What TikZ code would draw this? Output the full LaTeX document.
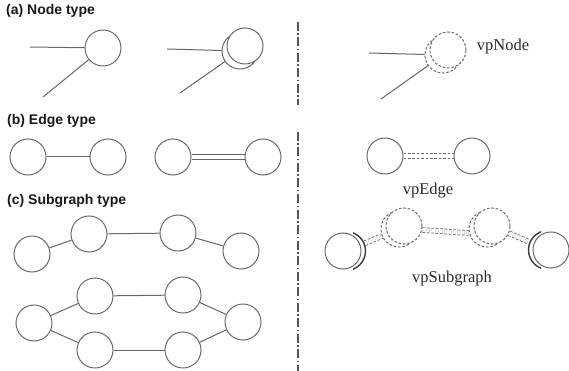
\documentclass[tikz,border=0pt]{standalone}
\usepackage{fontspec}
\setmainfont{Liberation Serif}
\newfontfamily\headfont{Liberation Sans}
\pgfdeclarelayer{bg}
\pgfsetlayers{bg,main}
\definecolor{ringgray}{HTML}{6A6A6A}
\definecolor{linkgray}{HTML}{666666}
\definecolor{sepgray}{HTML}{555555}
\definecolor{arcgray}{HTML}{3A3A3A}
\definecolor{labelgray}{HTML}{2A2A2A}
\begin{document}
\begin{tikzpicture}[x=1pt,y=-1pt,
  vtx/.style={circle,draw=ringgray,line width=1pt,minimum size=36pt,inner sep=0pt,fill=white},
  vvtx/.style={vtx,dash pattern=on 2.6pt off 1.8pt},
  ghost/.style={circle,minimum size=39pt,inner sep=0pt},
  link/.style={draw=linkgray,line width=1pt},
  dlink/.style={draw=linkgray,line width=0.8pt,double=white,double distance=4pt},
  vlink/.style={dlink,dash pattern=on 2.6pt off 1.8pt},
  ghostarc/.style={draw=arcgray,line width=1.4pt},
  head/.style={font=\headfont\bfseries\fontsize{14}{16}\selectfont,anchor=west,inner sep=0pt,text=black!90},
  vlabel/.style={font=\fontsize{16.5}{19}\selectfont,inner sep=0pt,text=labelgray},
  divider/.style={draw=sepgray,line width=1.8pt,dash pattern=on 9pt off 2.5pt on 1.5pt off 2.5pt}]
\useasboundingbox (0,0) rectangle (569,371);

% section headers
\node[head] (ha) at (6,11) {(a) Node type};
\node[head] (hb) at (7,121) {(b) Edge type};
\node[head] (hc) at (7,201) {(c) Subgraph type};

% dash-dot separator
\coordinate (s1) at (298,22);
\coordinate (s2) at (298,105);
\coordinate (s3) at (298,132);
\coordinate (s4) at (298,371);
\draw[divider] (s1) -- (s2);
\draw[divider] (s3) -- (s4);

% ---- (a) node type ----
\node[vtx] (n1) at (103,48) {};
\coordinate (n1h) at (30,47);
\coordinate (n1d) at (43,97);

\node[vtx] (n2b) at (240,51) {};
\node[vtx] (n2) at (245,46) {};
\coordinate (n2h) at (167,49);
\coordinate (n2d) at (180,93);

\node[vvtx] (n3b) at (443,55) {};
\node[vvtx] (n3) at (448,50) {};
\coordinate (n3h) at (369,53);
\coordinate (n3d) at (381,99);
\node[vlabel] (lnode) at (503,47) {vpNode};

% ---- (b) edge type ----
\node[vtx] (e1) at (28,157) {};
\node[vtx] (e2) at (108,157) {};
\node[vtx] (e3) at (173,157) {};
\node[vtx] (e4) at (263,157) {};
\node[vtx] (v1) at (385,156) {};
\node[vtx] (v2) at (472,156) {};
\node[vlabel] (ledge) at (428,191) {vpEdge};

% ---- (c) subgraph type ----
\node[vtx] (c1) at (32,254) {};
\node[vtx] (c2) at (89,234) {};
\node[vtx] (c3) at (178,233) {};
\node[vtx] (c4) at (241,251) {};

\node[vtx] (d1) at (34,323) {};
\node[vtx] (d2) at (95,296) {};
\node[vtx] (d3) at (183,295) {};
\node[vtx] (d4) at (243,322) {};
\node[vtx] (d5) at (95,350) {};
\node[vtx] (d6) at (183,350) {};

\node[vtx] (g1) at (343,251) {};
\node[vvtx] (f1b) at (399,229) {};
\node[vvtx] (f1) at (404,226) {};
\node[vvtx] (f2b) at (487,229) {};
\node[vvtx] (f2) at (492,226) {};
\node[vtx] (g2) at (551,250) {};
\node[vlabel] (lsub) at (452,279) {vpSubgraph};

% shifted ghost outlines, only their outer arcs show
\begin{scope}
  \clip (353,228) rectangle (372,274);
  \node[ghost,ghostarc] (g1g) at (346,251) {};
\end{scope}
\begin{scope}
  \clip (526,227) rectangle (541,273);
  \node[ghost,ghostarc] (g2g) at (548,250) {};
\end{scope}

% connectors, kept behind the filled circles
\begin{pgfonlayer}{bg}
  \draw[link] (n1h) -- (n1);
  \draw[link] (n1d) -- (n1);
  \draw[link] (n2h) -- (n2b);
  \draw[link] (n2d) -- (n2b);
  \draw[link] (n3h) -- (n3b);
  \draw[link] (n3d) -- (n3b);

  \draw[link] (e1) -- (e2);
  \draw[dlink] (e3) -- (e4);
  \draw[vlink] (v1) -- (v2);

  \draw[link] (c1) -- (c2);
  \draw[link] (c2) -- (c3);
  \draw[link] (c3) -- (c4);
  \draw[link] (d1) -- (d2);
  \draw[link] (d2) -- (d3);
  \draw[link] (d3) -- (d4);
  \draw[link] (d1) -- (d5);
  \draw[link] (d5) -- (d6);
  \draw[link] (d6) -- (d4);

  \draw[vlink] (g1g) -- (f1b);
  \draw[vlink] ([yshift=-4pt]f1.east) -- ([yshift=-4pt]f2b.west);
  \draw[vlink] (f2) -- (g2g);
\end{pgfonlayer}
\end{tikzpicture}
\end{document}
